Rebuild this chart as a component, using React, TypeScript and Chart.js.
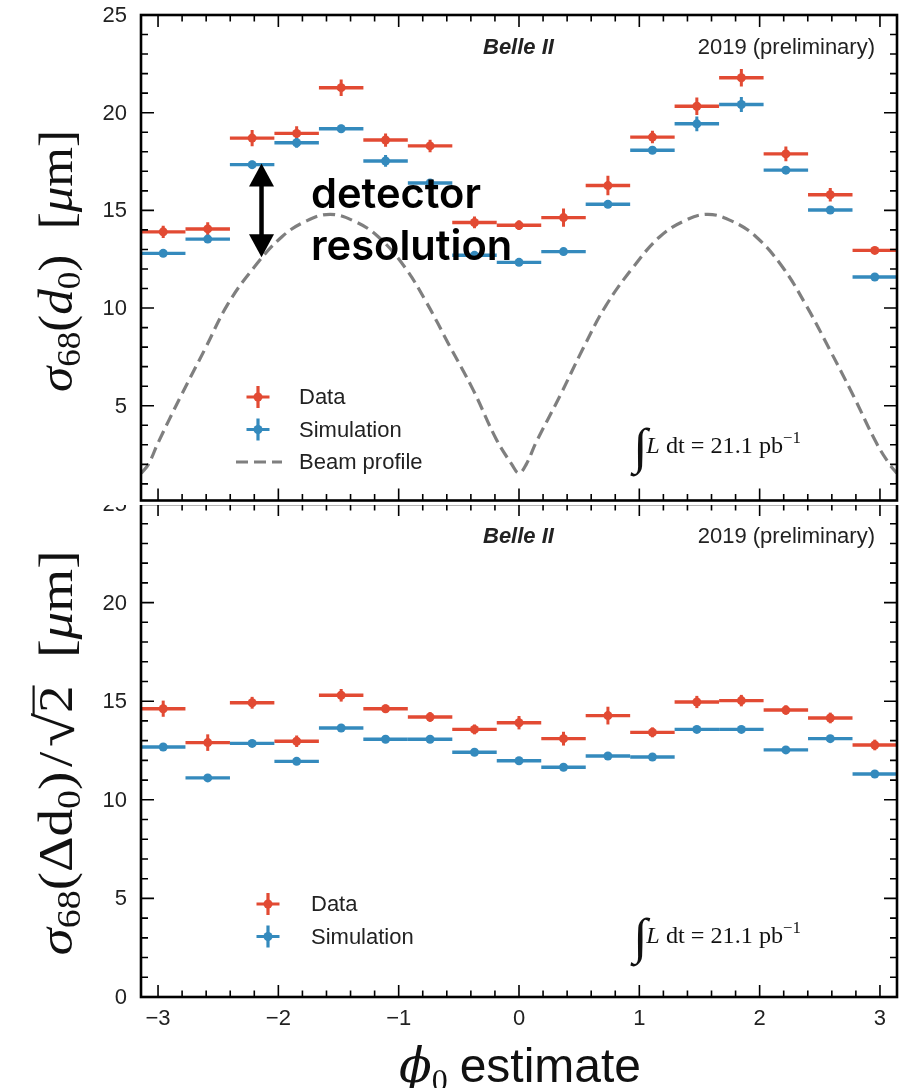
import React, { useEffect, useRef } from "react";
import { Chart, registerables } from "chart.js";

Chart.register(...registerables);

// 17 equal φ0 bins spanning [-π, π]
const binCenters = [-2.957, -2.587, -2.218, -1.848, -1.478, -1.109, -0.739, -0.370, 0.0, 0.370, 0.739, 1.109, 1.478, 1.848, 2.218, 2.587, 2.957];
const binHalfWidth = 0.1848;

// σ68(d0) per bin [μm]
const d0Data = [13.90, 14.05, 18.70, 18.94, 21.28, 18.60, 18.30, 14.38, 14.24, 14.63, 16.27, 18.75, 20.33, 21.79, 17.89, 15.80, 12.95];
const d0DataErr = [0.31, 0.34, 0.42, 0.36, 0.42, 0.34, 0.32, 0.30, 0.25, 0.47, 0.50, 0.32, 0.45, 0.45, 0.38, 0.34, 0.15];
const d0Sim = [12.80, 13.53, 17.34, 18.46, 19.18, 17.53, 16.40, 12.70, 12.34, 12.89, 15.31, 18.08, 19.43, 20.42, 17.06, 15.02, 11.59];
const d0SimErr = [0.12, 0.12, 0.20, 0.25, 0.20, 0.30, 0.15, 0.12, 0.12, 0.12, 0.15, 0.20, 0.38, 0.38, 0.15, 0.12, 0.12];

// σ68(Δd0)/√2 per bin [μm]
const dd0Data = [14.62, 12.90, 14.92, 12.97, 15.30, 14.62, 14.20, 13.57, 13.91, 13.10, 14.27, 13.42, 14.96, 15.03, 14.55, 14.15, 12.78];
const dd0DataErr = [0.41, 0.42, 0.30, 0.29, 0.32, 0.21, 0.25, 0.25, 0.34, 0.35, 0.45, 0.25, 0.31, 0.29, 0.24, 0.27, 0.27];
const dd0Sim = [12.68, 11.11, 12.86, 11.95, 13.64, 13.07, 13.07, 12.41, 11.98, 11.65, 12.22, 12.17, 13.57, 13.57, 12.53, 13.10, 11.31];
const dd0SimErr = [0.10, 0.10, 0.10, 0.10, 0.10, 0.10, 0.10, 0.10, 0.10, 0.10, 0.10, 0.10, 0.10, 0.10, 0.10, 0.10, 0.10];

// projected beam-spot width vs φ0 [μm]
const beamPhi = [-3.14, -3.08, -3.00, -2.81, -2.61, -2.42, -2.20, -1.97, -1.77, -1.57, -1.37, -1.17, -0.95, -0.77, -0.58, -0.38, -0.19, -0.06, 0.00, 0.06, 0.14, 0.34, 0.53, 0.72, 0.95, 1.17, 1.37, 1.57, 1.77, 1.97, 2.19, 2.39, 2.58, 2.78, 2.97, 3.08, 3.14];
const beamWidth = [1.55, 2.0, 3.1, 5.5, 7.9, 10.2, 12.1, 13.65, 14.45, 14.8, 14.45, 13.65, 12.1, 10.3, 8.1, 5.8, 3.3, 2.0, 1.55, 2.0, 3.1, 5.5, 7.9, 10.1, 12.1, 13.65, 14.45, 14.8, 14.45, 13.65, 12.1, 10.1, 7.9, 5.5, 3.1, 2.0, 1.55];

// arrow marking the detector resolution: from beam width up to simulation
const arrowPhi = -2.14;
const arrowFrom = 12.6;
const arrowTo = 17.4;

const xMajorTicks = [-3, -2, -1, 0, 1, 2, 3];
const xTickLabels = ["−3", "−2", "−1", "0", "1", "2", "3"];
const yMajorTicks = [0, 5, 10, 15, 20, 25];
const yTickLabels = ["0", "5", "10", "15", "20", "25"];

const RED = "#E24A33";
const BLUE = "#348ABD";
const GREY = "#7f7f7f";
const INK = "#222";
const SANS = '"Liberation Sans", Arial, sans-serif';
const SERIF = '"Liberation Serif", "DejaVu Serif", serif';

type Seg = { t: string; size: number; italic?: boolean; bold?: boolean; family?: string; dy?: number; gap?: number; over?: boolean };

const fontOf = (s: Seg) =>
  `${s.italic ? "italic " : ""}${s.bold ? "bold " : ""}${s.size}px ${s.family ?? SERIF}`;

function drawSegs(ctx: CanvasRenderingContext2D, segs: Seg[], x: number, y: number, align: "left" | "center" | "right", target?: number) {
  ctx.textAlign = "left";
  ctx.textBaseline = "alphabetic";
  const ws = segs.map((s) => {
    ctx.font = fontOf(s);
    return ctx.measureText(s.t).width + (s.gap ?? 0);
  });
  const total = ws.reduce((a, b) => a + b, 0);
  const sx = target ? target / total : 1;
  ctx.save();
  ctx.translate(x, y);
  ctx.scale(sx, 1);
  let cx = align === "center" ? -total / 2 : align === "right" ? -total : 0;
  segs.forEach((s, i) => {
    ctx.font = fontOf(s);
    ctx.fillText(s.t, cx, s.dy ?? 0);
    if (s.over) {
      ctx.save();
      ctx.lineWidth = s.size * 0.045;
      ctx.beginPath();
      const oy = (s.dy ?? 0) - s.size * 0.8;
      ctx.moveTo(cx - 2, oy);
      ctx.lineTo(cx + ws[i], oy);
      ctx.stroke();
      ctx.restore();
    }
    cx += ws[i];
  });
  ctx.restore();
}

function errorMarker(ctx: CanvasRenderingContext2D, x: number, y: number, color: string) {
  ctx.save();
  ctx.strokeStyle = color;
  ctx.fillStyle = color;
  ctx.lineWidth = 3.2;
  ctx.beginPath();
  ctx.moveTo(x - 11.5, y);
  ctx.lineTo(x + 11.5, y);
  ctx.moveTo(x, y - 11);
  ctx.lineTo(x, y + 11);
  ctx.stroke();
  ctx.beginPath();
  ctx.arc(x, y, 4.5, 0, Math.PI * 2);
  ctx.fill();
  ctx.restore();
}

// horizontal bin-width bars and vertical uncertainty bars under each marker
const errorBarPlugin = {
  id: "errorBars",
  beforeDatasetsDraw(chart: any) {
    const { ctx, scales } = chart;
    const x = scales.x;
    const y = scales.y;
    ctx.save();
    ctx.beginPath();
    ctx.rect(chart.chartArea.left, chart.chartArea.top, chart.chartArea.width, chart.chartArea.height);
    ctx.clip();
    chart.data.datasets.forEach((ds: any) => {
      if (!ds.errY) return;
      ctx.strokeStyle = ds.backgroundColor;
      ctx.lineCap = "butt";
      ds.data.forEach((p: any, i: number) => {
        const px = x.getPixelForValue(p.x);
        const py = y.getPixelForValue(p.y);
        ctx.lineWidth = 3.4;
        ctx.beginPath();
        ctx.moveTo(x.getPixelForValue(p.x - ds.halfW), py);
        ctx.lineTo(x.getPixelForValue(p.x + ds.halfW), py);
        ctx.stroke();
        ctx.lineWidth = 3;
        ctx.beginPath();
        ctx.moveTo(px, y.getPixelForValue(p.y - ds.errY[i]));
        ctx.lineTo(px, y.getPixelForValue(p.y + ds.errY[i]));
        ctx.stroke();
      });
    });
    ctx.restore();
  },
};

type PanelOpts = {
  yMin: number;
  yTitle: Seg[];
  yTitleCenter: number;
  yTitleLength: number;
  legend: { y: number; markerX: number; textX: number; rows: { label: string; kind: "data" | "sim" | "beam" }[] };
  lumiBaseline: number;
  xLabels: boolean;
  arrow: boolean;
};

function framePlugin(o: PanelOpts) {
  return {
    id: "frame",
    afterDraw(chart: any) {
      const { ctx, chartArea: a, scales } = chart;
      const x = scales.x;
      const y = scales.y;
      ctx.save();

      // arrow and annotation
      if (o.arrow) {
        const ax = x.getPixelForValue(arrowPhi);
        const yb = y.getPixelForValue(arrowFrom);
        const yt = y.getPixelForValue(arrowTo);
        const hw = 12.5;
        const hh = 23;
        ctx.fillStyle = "#000";
        ctx.strokeStyle = "#000";
        ctx.lineWidth = 4.5;
        ctx.beginPath();
        ctx.moveTo(ax, yt + hh - 2);
        ctx.lineTo(ax, yb - hh + 2);
        ctx.stroke();
        ctx.beginPath();
        ctx.moveTo(ax, yt);
        ctx.lineTo(ax - hw, yt + hh);
        ctx.lineTo(ax + hw, yt + hh);
        ctx.closePath();
        ctx.fill();
        ctx.beginPath();
        ctx.moveTo(ax, yb);
        ctx.lineTo(ax - hw, yb - hh);
        ctx.lineTo(ax + hw, yb - hh);
        ctx.closePath();
        ctx.fill();

        ctx.font = `600 40px Inter, "Noto Sans", sans-serif`;
        const w = ctx.measureText("detector").width;
        const fs = (40 * 170) / w;
        ctx.font = `600 ${fs}px Inter, "Noto Sans", sans-serif`;
        ctx.textAlign = "left";
        ctx.textBaseline = "alphabetic";
        ctx.fillText("detector", 311, 208);
        ctx.fillText("resolution", 311, 260);
      }

      // ticks pointing inwards on all four sides
      ctx.strokeStyle = "#000";
      ctx.lineWidth = 1.6;
      ctx.beginPath();
      for (let k = -15; k <= 15; k++) {
        const v = k / 5;
        const px = x.getPixelForValue(v);
        if (px < a.left || px > a.right) continue;
        const len = k % 5 === 0 ? 12 : 6.5;
        ctx.moveTo(px, a.bottom);
        ctx.lineTo(px, a.bottom - len);
        ctx.moveTo(px, a.top);
        ctx.lineTo(px, a.top + len);
      }
      for (let v = 0; v <= 25; v++) {
        if (v < o.yMin) continue;
        const py = y.getPixelForValue(v);
        const len = v % 5 === 0 ? 13 : 7;
        ctx.moveTo(a.left, py);
        ctx.lineTo(a.left + len, py);
        ctx.moveTo(a.right, py);
        ctx.lineTo(a.right - len, py);
      }
      ctx.stroke();

      // spines
      ctx.lineWidth = 2.6;
      ctx.strokeRect(a.left, a.top, a.right - a.left, a.bottom - a.top);

      // tick labels
      ctx.fillStyle = INK;
      ctx.font = `22px ${SANS}`;
      ctx.textAlign = "right";
      ctx.textBaseline = "middle";
      yMajorTicks.forEach((v, i) => {
        if (v < o.yMin) return;
        ctx.fillText(yTickLabels[i], 127, y.getPixelForValue(v) + 1);
      });
      if (o.xLabels) {
        ctx.textAlign = "center";
        xMajorTicks.forEach((v, i) => {
          ctx.fillText(xTickLabels[i], x.getPixelForValue(v), a.bottom + 22);
        });
      }

      // experiment tags
      ctx.textBaseline = "middle";
      ctx.textAlign = "left";
      ctx.font = `italic bold 22px ${SANS}`;
      ctx.fillText("Belle II", 483, a.top + 33);
      ctx.font = `22px ${SANS}`;
      ctx.textAlign = "right";
      ctx.fillText("2019 (preliminary)", 875, a.top + 33);

      // legend
      o.legend.rows.forEach((r, i) => {
        const ry = o.legend.y + i * 32.5;
        if (r.kind === "beam") {
          ctx.save();
          ctx.strokeStyle = GREY;
          ctx.lineWidth = 3.2;
          ctx.setLineDash([12, 6]);
          ctx.beginPath();
          ctx.moveTo(o.legend.markerX - 22, ry);
          ctx.lineTo(o.legend.markerX + 24, ry);
          ctx.stroke();
          ctx.restore();
        } else {
          errorMarker(ctx, o.legend.markerX, ry, r.kind === "data" ? RED : BLUE);
        }
        ctx.fillStyle = INK;
        ctx.font = `22px ${SANS}`;
        ctx.textAlign = "left";
        ctx.textBaseline = "middle";
        ctx.fillText(r.label, o.legend.textX, ry + 1);
      });

      // integrated luminosity
      ctx.fillStyle = "#111";
      drawSegs(
        ctx,
        [
          { t: "∫", size: 50, family: SERIF, dy: 10, gap: -1 },
          { t: "L", size: 23, italic: true },
          { t: " dt", size: 23 },
          { t: " = ", size: 23 },
          { t: "21.1", size: 23 },
          { t: " pb", size: 23 },
          { t: "−1", size: 16, dy: -10 },
        ],
        633,
        o.lumiBaseline,
        "left",
        168
      );

      // y-axis title
      ctx.save();
      ctx.fillStyle = "#111";
      ctx.strokeStyle = "#111";
      ctx.translate(72, o.yTitleCenter);
      ctx.rotate(-Math.PI / 2);
      drawSegs(ctx, o.yTitle, 0, 0, "center", o.yTitleLength);
      ctx.restore();

      // x-axis title
      if (o.xLabels) {
        ctx.fillStyle = "#111";
        drawSegs(
          ctx,
          [
            { t: "ϕ", size: 48, italic: true, family: '"DejaVu Serif", serif' },
            { t: "0", size: 32, dy: 9, gap: 12 },
            { t: "estimate", size: 48, family: SANS },
          ],
          520,
          a.bottom + 85,
          "center"
        );
      }
      ctx.restore();
    },
  };
}

function panelConfig(
  dataVals: number[],
  dataErr: number[],
  simVals: number[],
  simErr: number[],
  withBeam: boolean,
  padding: { left: number; right: number; top: number; bottom: number },
  opts: PanelOpts
): any {
  const datasets: any[] = [];
  if (withBeam) {
    datasets.push({
      type: "line",
      label: "Beam profile",
      data: beamPhi.map((p, i) => ({ x: p, y: beamWidth[i] })),
      borderColor: GREY,
      borderWidth: 3.2,
      borderDash: [12, 6],
      pointRadius: 0,
      fill: false,
      tension: 0.4,
      order: 3,
    });
  }
  datasets.push({
    type: "scatter",
    label: "Data",
    data: binCenters.map((c, i) => ({ x: c, y: dataVals[i] })),
    errY: dataErr,
    halfW: binHalfWidth,
    backgroundColor: RED,
    borderWidth: 0,
    pointRadius: 4.5,
    order: 2,
  });
  datasets.push({
    type: "scatter",
    label: "Simulation",
    data: binCenters.map((c, i) => ({ x: c, y: simVals[i] })),
    errY: simErr,
    halfW: binHalfWidth,
    backgroundColor: BLUE,
    borderWidth: 0,
    pointRadius: 4.5,
    order: 1,
  });
  return {
    type: "scatter",
    data: { datasets },
    options: {
      animation: false,
      responsive: false,
      maintainAspectRatio: false,
      events: [],
      layout: { padding },
      plugins: { legend: { display: false }, tooltip: { enabled: false } },
      scales: {
        x: { type: "linear", min: -Math.PI, max: Math.PI, display: false },
        y: { type: "linear", min: opts.yMin, max: 25, display: false },
      },
    },
    plugins: [errorBarPlugin, framePlugin(opts)],
  };
}

export default function App() {
  const topRef = useRef<HTMLCanvasElement>(null);
  const botRef = useRef<HTMLCanvasElement>(null);

  useEffect(() => {
    const top = new Chart(
      topRef.current!,
      panelConfig(d0Data, d0DataErr, d0Sim, d0SimErr, true, { left: 141, right: 11, top: 15, bottom: 2 }, {
        yMin: 0.15,
        yTitle: [
          { t: "σ", size: 48, italic: true },
          { t: "68", size: 33, dy: 8 },
          { t: "(", size: 48 },
          { t: "d", size: 48, italic: true },
          { t: "0", size: 33, dy: 8 },
          { t: ")", size: 48 },
          { t: "  [", size: 48 },
          { t: "μ", size: 48, italic: true },
          { t: "m", size: 48 },
          { t: "]", size: 48 },
        ],
        yTitleCenter: 261,
        yTitleLength: 262,
        legend: {
          y: 397,
          markerX: 258,
          textX: 299,
          rows: [
            { label: "Data", kind: "data" },
            { label: "Simulation", kind: "sim" },
            { label: "Beam profile", kind: "beam" },
          ],
        },
        lumiBaseline: 453,
        xLabels: false,
        arrow: true,
      })
    );
    const bot = new Chart(
      botRef.current!,
      panelConfig(dd0Data, dd0DataErr, dd0Sim, dd0SimErr, false, { left: 141, right: 11, top: 14, bottom: 91 }, {
        yMin: 0,
        yTitle: [
          { t: "σ", size: 48, italic: true },
          { t: "68", size: 33, dy: 8 },
          { t: "(", size: 48 },
          { t: "Δ", size: 48 },
          { t: "d", size: 48 },
          { t: "0", size: 33, dy: 8 },
          { t: ")", size: 48, gap: 4 },
          { t: "/", size: 48, gap: 4 },
          { t: "√", size: 54, dy: 2 },
          { t: "2", size: 48, over: true },
          { t: "  [", size: 48 },
          { t: "μ", size: 48, italic: true },
          { t: "m", size: 48 },
          { t: "]", size: 48 },
        ],
        yTitleCenter: 263,
        yTitleLength: 405,
        legend: {
          y: 414,
          markerX: 268,
          textX: 311,
          rows: [
            { label: "Data", kind: "data" },
            { label: "Simulation", kind: "sim" },
          ],
        },
        lumiBaseline: 453,
        xLabels: true,
        arrow: false,
      })
    );
    return () => {
      top.destroy();
      bot.destroy();
    };
  }, []);

  return (
    <div style={{ position: "absolute", left: 0, top: 0, width: 908, height: 1088, background: "#fff", overflow: "hidden" }}>
      <canvas ref={botRef} width={908} height={598} style={{ position: "absolute", left: 0, top: 490, zIndex: 1 }} />
      <canvas ref={topRef} width={908} height={505} style={{ position: "absolute", left: 0, top: 0, zIndex: 2, background: "#fff" }} />
    </div>
  );
}
